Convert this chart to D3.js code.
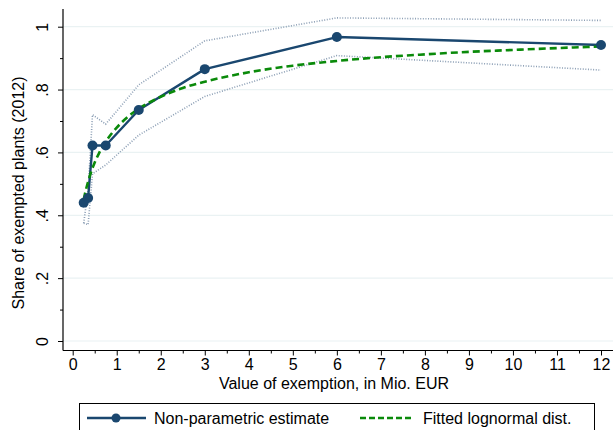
<!DOCTYPE html>
<html>
<head>
<meta charset="utf-8">
<script src="https://cdn.jsdelivr.net/npm/d3@7"></script>
<style>
  html, body { margin: 0; padding: 0; background: #fff; }
  svg { display: block; font-family: "Liberation Sans", Arial, sans-serif; }
</style>
</head>
<body>
<svg id="chart" width="613" height="430"></svg>
<script>
// Exemption value (Mio. EUR) at which the share of exempted plants is estimated
const exemptionValues = [0.25, 0.35, 0.45, 0.75, 1.5, 3, 6, 12];
// Non-parametric estimate of the share of exempted plants
const shareEstimate = [0.44, 0.455, 0.622, 0.622, 0.735, 0.865, 0.967, 0.942];
// Confidence band around the estimate
const bandUpper = [0.375, 0.48, 0.72, 0.69, 0.815, 0.955, 1.028, 1.02];
const bandLower = [0.375, 0.37, 0.532, 0.56, 0.655, 0.778, 0.908, 0.862];
// Fitted lognormal distribution (CDF values)
const fitX = [0.25, 0.3, 0.35, 0.4, 0.5, 0.6, 0.75, 1, 1.25, 1.5, 2, 2.5, 3, 4, 5, 6, 7, 8, 9, 10, 11, 12];
const fitY = [0.45, 0.481, 0.507, 0.53, 0.568, 0.598, 0.634, 0.679, 0.713, 0.739, 0.777, 0.805, 0.825, 0.855, 0.876, 0.891, 0.903, 0.912, 0.92, 0.926, 0.932, 0.937];
// Axis ticks
const xTicks = [0, 1, 2, 3, 4, 5, 6, 7, 8, 9, 10, 11, 12];
const xMinorTicks = [0.5, 1.5, 2.5, 3.5, 4.5, 5.5, 6.5, 7.5, 8.5, 9.5, 10.5, 11.5];
const yTicks = [0, 0.2, 0.4, 0.6, 0.8, 1];
const yTickLabels = ["0", ".2", ".4", ".6", ".8", "1"];
const yMinorTicks = [0.1, 0.3, 0.5, 0.7, 0.9];

const navy = "#1a476f";
const green = "#0a8a0a";
const bandColor = "#8c9fb5";
const gridColor = "#eaf2f3";
const fontSize = 16;

const svg = d3.select("#chart");
const x = d3.scaleLinear().domain([0, 12]).range([72.7, 601]);
const y = d3.scaleLinear().domain([0, 1]).range([341, 26.7]);
const plotLeft = 63, plotRight = 613, plotTop = 9, plotBottom = 350.5;

// horizontal grid lines
svg.append("g").selectAll("line").data(yTicks).join("line")
  .attr("x1", plotLeft).attr("x2", plotRight)
  .attr("y1", d => y(d)).attr("y2", d => y(d))
  .attr("stroke", gridColor).attr("stroke-width", 1.2);

// y axis with vertical tick labels
const yAxis = svg.append("g").attr("transform", `translate(${plotLeft},0)`);
yAxis.call(d3.axisLeft(y).tickValues(yTicks).tickFormat((d, i) => yTickLabels[i]).tickSize(5).tickPadding(3));
yAxis.append("g").call(d3.axisLeft(y).tickValues(yMinorTicks).tickFormat("").tickSize(3));
yAxis.selectAll(".domain").remove();
yAxis.selectAll("line").attr("stroke", "#000").attr("stroke-width", 1);
yAxis.selectAll("text")
  .attr("font-size", fontSize).attr("fill", "#000")
  .attr("font-family", "'Liberation Sans', Arial, sans-serif")
  .attr("text-anchor", "middle")
  .attr("x", 0).attr("y", 0).attr("dy", "0.35em")
  .attr("transform", "translate(-21,0) rotate(-90)");
svg.append("line").attr("x1", plotLeft).attr("x2", plotLeft)
  .attr("y1", plotTop).attr("y2", plotBottom).attr("stroke", "#000").attr("stroke-width", 1.2);

// x axis
const xAxis = svg.append("g").attr("transform", `translate(0,${plotBottom})`);
xAxis.call(d3.axisBottom(x).tickValues(xTicks).tickFormat(d3.format("d")).tickSize(5).tickPadding(3));
xAxis.append("g").call(d3.axisBottom(x).tickValues(xMinorTicks).tickFormat("").tickSize(3));
xAxis.selectAll(".domain").remove();
xAxis.selectAll("line").attr("stroke", "#000").attr("stroke-width", 1);
xAxis.selectAll("text").attr("font-size", fontSize).attr("fill", "#000")
  .attr("font-family", "'Liberation Sans', Arial, sans-serif");
svg.append("line").attr("x1", plotLeft).attr("x2", plotRight)
  .attr("y1", plotBottom).attr("y2", plotBottom).attr("stroke", "#000").attr("stroke-width", 1.2);

// axis titles
svg.append("text").attr("x", 334).attr("y", 389).attr("text-anchor", "middle")
  .attr("font-size", fontSize).text("Value of exemption, in Mio. EUR");
svg.append("text").attr("transform", "translate(24,193) rotate(-90)").attr("text-anchor", "middle")
  .attr("font-size", fontSize).text("Share of exempted plants (2012)");

const line = d3.line().x(d => x(d[0])).y(d => y(d[1]));

// confidence band
[bandUpper, bandLower].forEach(vals => {
  svg.append("path").datum(exemptionValues.map((v, i) => [v, vals[i]]))
    .attr("d", line).attr("fill", "none").attr("stroke", bandColor)
    .attr("stroke-width", 1.6).attr("stroke-dasharray", "1,1.6");
});

// estimate
const est = exemptionValues.map((v, i) => [v, shareEstimate[i]]);
svg.append("path").datum(est).attr("d", line).attr("fill", "none")
  .attr("stroke", navy).attr("stroke-width", 2.4).attr("stroke-linejoin", "round");

// fitted lognormal
svg.append("path").datum(fitX.map((v, i) => [v, fitY[i]]))
  .attr("d", d3.line().curve(d3.curveMonotoneX).x(d => x(d[0])).y(d => y(d[1])))
  .attr("fill", "none").attr("stroke", green).attr("stroke-width", 2.6)
  .attr("stroke-dasharray", "7,4");

// estimate markers
svg.append("g").selectAll("circle").data(est).join("circle")
  .attr("cx", d => x(d[0])).attr("cy", d => y(d[1])).attr("r", 5)
  .attr("fill", navy);

// legend
const lg = svg.append("g");
lg.append("rect").attr("x", 79.5).attr("y", 403.5).attr("width", 515).attr("height", 40)
  .attr("fill", "#fff").attr("stroke", "#000").attr("stroke-width", 1);
lg.append("line").attr("x1", 87).attr("x2", 146).attr("y1", 418).attr("y2", 418)
  .attr("stroke", navy).attr("stroke-width", 2.4);
lg.append("circle").attr("cx", 116).attr("cy", 418).attr("r", 4.5).attr("fill", navy);
lg.append("text").attr("x", 154).attr("y", 424).attr("font-size", fontSize).text("Non-parametric estimate");
lg.append("line").attr("x1", 360).attr("x2", 414).attr("y1", 418).attr("y2", 418)
  .attr("stroke", green).attr("stroke-width", 2.4).attr("stroke-dasharray", "6,3");
lg.append("text").attr("x", 423).attr("y", 424).attr("font-size", fontSize).text("Fitted lognormal dist.");
</script>
</body>
</html>
